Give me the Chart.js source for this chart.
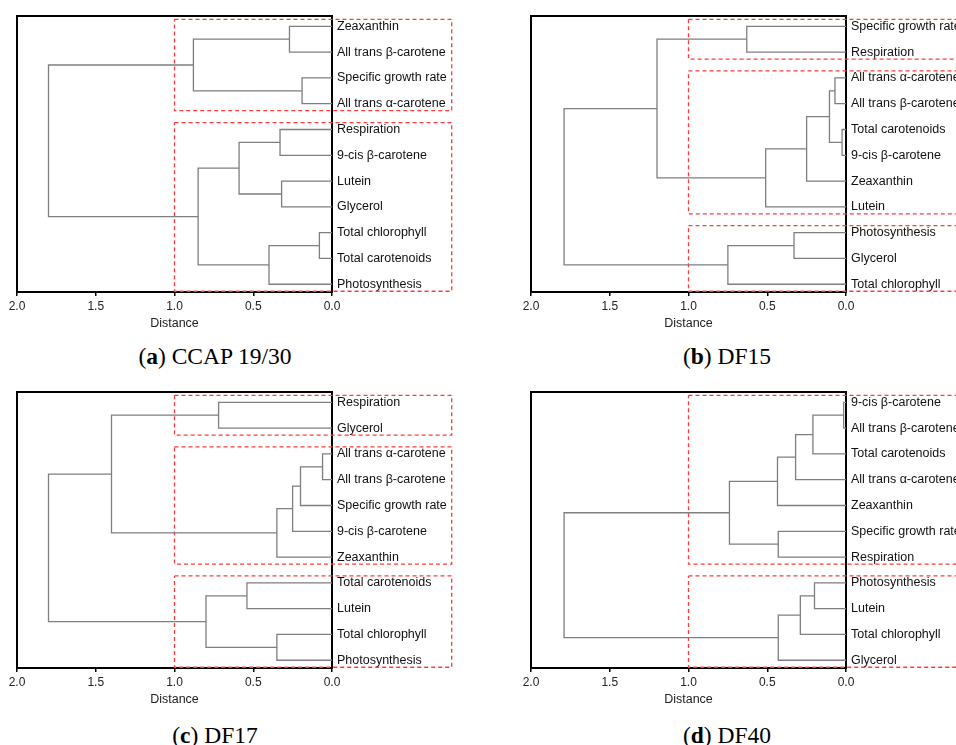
<!DOCTYPE html>
<html>
<head>
<meta charset="utf-8">
<script src="https://cdn.jsdelivr.net/npm/chart.js@4.4.1/dist/chart.umd.min.js"></script>
<style>
  html, body { margin: 0; padding: 0; background: #fff; overflow: hidden; }
  body { width: 956px; height: 745px; position: relative; }
  canvas { position: absolute; }
  .caption {
    position: absolute; width: 430px; text-align: center;
    font-family: "Liberation Serif", "Times New Roman", serif;
    font-size: 23.5px; line-height: 23.5px; color: #000;
  }
</style>
</head>
<body>
<canvas id="chartA" width="478" height="340" style="left:0;top:0"></canvas>
<canvas id="chartB" width="478" height="340" style="left:514px;top:0"></canvas>
<canvas id="chartC" width="478" height="340" style="left:0;top:376px"></canvas>
<canvas id="chartD" width="478" height="340" style="left:514px;top:376px"></canvas>
<div class="caption" style="left:0;top:345px">(<b>a</b>) CCAP 19/30</div>
<div class="caption" style="left:512px;top:345px">(<b>b</b>) DF15</div>
<div class="caption" style="left:0;top:724px">(<b>c</b>) DF17</div>
<div class="caption" style="left:512px;top:724px">(<b>d</b>) DF40</div>
<script>
// leaf order (top to bottom) and merges [childA, childB, distance]
// node ids: leaves 0..10, merged clusters 11, 12, ...
const leavesA = ['Zeaxanthin', 'All trans β-carotene', 'Specific growth rate', 'All trans α-carotene',
  'Respiration', '9-cis β-carotene', 'Lutein', 'Glycerol', 'Total chlorophyll', 'Total carotenoids', 'Photosynthesis'];
const mergesA = [[0, 1, 0.27], [2, 3, 0.19], [11, 12, 0.88], [4, 5, 0.33], [6, 7, 0.32], [14, 15, 0.59],
  [8, 9, 0.08], [17, 10, 0.40], [16, 18, 0.85], [13, 19, 1.80]];
const clustersA = [[0, 3], [4, 10]];

const leavesB = ['Specific growth rate', 'Respiration', 'All trans α-carotene', 'All trans β-carotene',
  'Total carotenoids', '9-cis β-carotene', 'Zeaxanthin', 'Lutein', 'Photosynthesis', 'Glycerol', 'Total chlorophyll'];
const mergesB = [[0, 1, 0.63], [2, 3, 0.07], [4, 5, 0.025], [12, 13, 0.105], [14, 6, 0.25], [15, 7, 0.51],
  [11, 16, 1.20], [8, 9, 0.33], [18, 10, 0.75], [17, 19, 1.79]];
const clustersB = [[0, 1], [2, 7], [8, 10]];

const leavesC = ['Respiration', 'Glycerol', 'All trans α-carotene', 'All trans β-carotene', 'Specific growth rate',
  '9-cis β-carotene', 'Zeaxanthin', 'Total carotenoids', 'Lutein', 'Total chlorophyll', 'Photosynthesis'];
const mergesC = [[0, 1, 0.72], [2, 3, 0.06], [12, 4, 0.20], [13, 5, 0.25], [14, 6, 0.35], [11, 15, 1.40],
  [7, 8, 0.54], [9, 10, 0.35], [17, 18, 0.80], [16, 19, 1.80]];
const clustersC = [[0, 1], [2, 6], [7, 10]];

const leavesD = ['9-cis β-carotene', 'All trans β-carotene', 'Total carotenoids', 'All trans α-carotene',
  'Zeaxanthin', 'Specific growth rate', 'Respiration', 'Photosynthesis', 'Lutein', 'Total chlorophyll', 'Glycerol'];
const mergesD = [[0, 1, 0.015], [11, 2, 0.21], [12, 3, 0.32], [13, 4, 0.435], [5, 6, 0.43], [14, 15, 0.74],
  [7, 8, 0.20], [17, 9, 0.29], [18, 10, 0.43], [16, 19, 1.79]];
const clustersD = [[0, 6], [7, 10]];

const cutDistance = 1.0;
const distanceTicks = [0, 0.5, 1.0, 1.5, 2.0];

const BOX_PAD = 0.27;     // box margin around leaves (leaf units)
const BOX_RIGHT = -0.76;  // box runs past the axis over the labels

Chart.defaults.font.family = 'Arial, "Liberation Sans", Helvetica, sans-serif';
Chart.defaults.color = '#222';

const framePlugin = {
  id: 'frame',
  afterDatasetsDraw(chart) {
    const { ctx, chartArea: a } = chart;
    ctx.save();
    ctx.strokeStyle = '#000';
    ctx.lineWidth = 2;
    ctx.beginPath();
    ctx.moveTo(a.left, a.bottom);
    ctx.lineTo(a.left, a.top);
    ctx.lineTo(a.right, a.top);
    ctx.stroke();
    ctx.restore();
  }
};

function renderDendrogram(canvasId, leaves, merges, clusters) {
  const pos = leaves.map((_, i) => ({ x: 0, y: i }));
  merges.forEach(([a, b, h]) => pos.push({ x: h, y: (pos[a].y + pos[b].y) / 2 }));

  const datasets = merges.map(([a, b, h]) => ({
    data: [
      { x: pos[a].x, y: pos[a].y }, { x: h, y: pos[a].y },
      { x: h, y: pos[b].y }, { x: pos[b].x, y: pos[b].y }
    ],
    showLine: true,
    borderColor: '#7f7f7f',
    borderWidth: 1.3,
    pointRadius: 0
  }));

  clusters.forEach(([i0, i1]) => {
    const top = i0 - BOX_PAD, bottom = i1 + BOX_PAD;
    datasets.push({
      data: [
        { x: cutDistance, y: top }, { x: BOX_RIGHT, y: top },
        { x: BOX_RIGHT, y: bottom }, { x: cutDistance, y: bottom }, { x: cutDistance, y: top }
      ],
      showLine: true,
      borderColor: '#ff3b3b',
      borderWidth: 1.3,
      borderDash: [4, 3],
      pointRadius: 0,
      clip: false
    });
  });

  new Chart(document.getElementById(canvasId), {
    type: 'scatter',
    data: { datasets: datasets },
    options: {
      responsive: false,
      animation: false,
      events: [],
      layout: { padding: { left: 17, top: 16, right: 0, bottom: 0 } },
      scales: {
        x: {
          type: 'linear',
          reverse: true,
          min: 0,
          max: 2,
          afterBuildTicks: axis => { axis.ticks = distanceTicks.map(v => ({ value: v })); },
          afterFit: scale => { scale.height = 48; },
          ticks: {
            callback: v => Number(v).toFixed(1),
            font: { size: 12 },
            padding: 3,
            maxRotation: 0,
            autoSkip: false
          },
          grid: { display: true, drawOnChartArea: false, drawTicks: true, tickLength: 4, color: '#000', lineWidth: 1.5 },
          border: { display: true, color: '#000', width: 2 },
          title: { display: true, text: 'Distance', font: { size: 12.5 }, padding: { top: 0, bottom: 9 } }
        },
        y: {
          type: 'linear',
          position: 'right',
          reverse: true,
          min: -0.4,
          max: 10.3,
          afterBuildTicks: axis => { axis.ticks = leaves.map((_, i) => ({ value: i })); },
          afterFit: scale => { scale.width = 146; },
          ticks: {
            callback: v => leaves[v],
            font: { size: 12.5 },
            color: '#111',
            padding: 5,
            autoSkip: false
          },
          grid: { display: false, drawTicks: false },
          border: { display: true, color: '#000', width: 2 }
        }
      },
      plugins: {
        legend: { display: false },
        tooltip: { enabled: false }
      }
    },
    plugins: [framePlugin]
  });
}

renderDendrogram('chartA', leavesA, mergesA, clustersA);
renderDendrogram('chartB', leavesB, mergesB, clustersB);
renderDendrogram('chartC', leavesC, mergesC, clustersC);
renderDendrogram('chartD', leavesD, mergesD, clustersD);
</script>
</body>
</html>
